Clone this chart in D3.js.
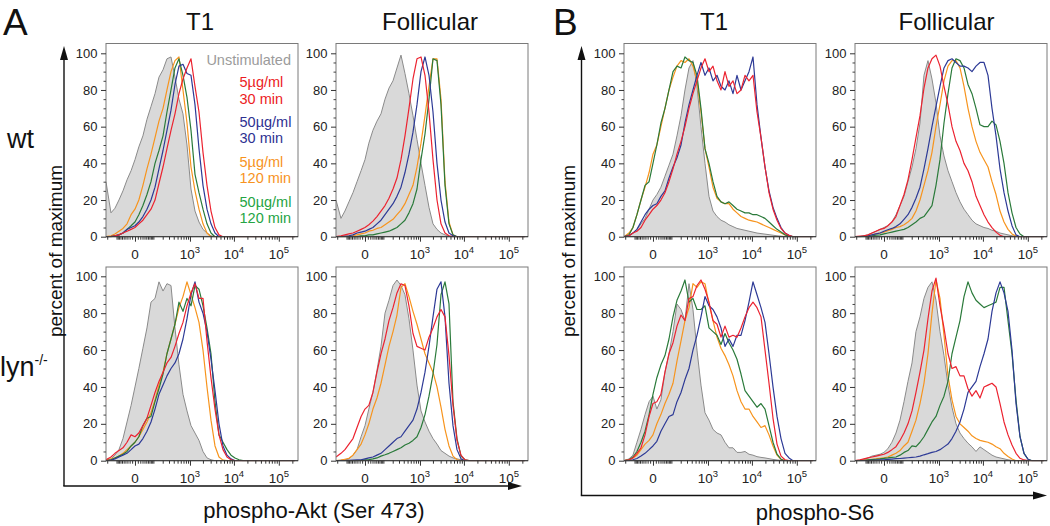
<!DOCTYPE html>
<html><head><meta charset="utf-8">
<script src="https://cdn.jsdelivr.net/npm/d3@7"></script>
<style>
body{margin:0;background:#fff}
svg{display:block}
text{font-family:"Liberation Sans",Arial,Helvetica,sans-serif}
</style></head>
<body><svg id="c" width="1050" height="526"></svg>
<script>
// bin centres (fluorescence, biexponential axis)
const xBins = [-217,-154,-114,-81,-54,-32,-14,0,14,32,54,81,114,154,204,264,339,430,542,680,849,1057,1311,1623,2006,2476,3053,3761,4629,5695,7005,8607,10578,13000,15963,19606,24072,29553,36277,44533,54658,67087,82334,101054,124022,152207,186782,229223];
const yTicks = [0,20,40,60,80,100];
const yMinorTicks = [5,10,15,25,30,35,45,50,55,65,70,75,85,90,95];
const xMajorTicks = [0,1000,10000,100000];
const xTickLabels = [["0",""],["10","3"],["10","4"],["10","5"]];
const xMinorTicks = [-200,-100,-90,-80,-70,-60,-50,-40,-30,-20,-10,10,20,30,40,50,60,70,80,90,100,200,300,400,500,600,700,800,900,2000,3000,4000,5000,6000,7000,8000,9000,20000,30000,40000,50000,60000,70000,80000,90000,200000];
const seriesNames = ["Unstimulated","5µg/ml 30 min","50µg/ml 30 min","5µg/ml 120 min","50µg/ml 120 min"];
const legendLines = [["Unstimulated"],["5µg/ml","30 min"],["50µg/ml","30 min"],["5µg/ml","120 min"],["50µg/ml","120 min"]];
const cellTypes = ["T1","Follicular"];
const genotypes = ["wt","lyn"];

// order in each panel: Unstimulated, 5/30, 50/30, 5/120, 50/120
const aktT1Wt = [
 [30,13,15.5,20,25,31,36,42,49,55,64,71,78,87,91,97,98,87,75,67,50,26,14,8,4,2,0.5,0,0,0,0,0,0,0,0,0,0,0,0,0,0,0,0,0,0,0,0,0],
 [0,0,0.5,1,2,3,4,5,7,9,12,15,20,29,38,48,58,67,78,86,92,97,82,68,46,28,14,5,1,0,0,0,0,0,0,0,0,0,0,0,0,0,0,0,0,0,0,0],
 [0,0,0.5,1,2,4,5,6,8,11,15,20,27,37,47,58,69,83,93,94,89,88,72,48,28,15,7,2,0,0,0,0,0,0,0,0,0,0,0,0,0,0,0,0,0,0,0,0],
 [0,0.5,1.5,3,4.5,7,12,15,20,28,37,45,54,63,70,80,90,96,98,80,62,38,25,15,7,2,0,0,0,0,0,0,0,0,0,0,0,0,0,0,0,0,0,0,0,0,0,0],
 [0,0,0.5,1,2,4,6,8,12,17,23,30,40,47,55,68,80,92,97,88,76,58,34,24,15,7,2,0,0,0,0,0,0,0,0,0,0,0,0,0,0,0,0,0,0,0,0,0]
];
const aktFoWt = [
 [20,10,14,19,24,30,36,42,51,58,63,67,75,81,85,92,99,89,78,66,53,40,28,16,7,4,2,1,0.3,0,0,0,0,0,0,0,0,0,0,0,0,0,0,0,0,0,0,0],
 [0,0.5,1,1.5,2,3,4,5,6.5,8.5,11,14,17,21,26,32,42,55,70,86,97,98,88,68,42,20,7,2,0.5,0,0,0,0,0,0,0,0,0,0,0,0,0,0,0,0,0,0,0],
 [0,0,0.3,0.5,1,2,2.5,3,4,5,7,9,12,15,18,22,27,35,45,57,72,90,98,88,68,40,20,8,2,0.5,0,0,0,0,0,0,0,0,0,0,0,0,0,0,0,0,0,0],
 [0,0,0,0.3,0.5,1,1.5,2,3,3.5,4.5,5,6.5,8,9.5,12,14.5,18,23,28,38,51,66,82,97,97,75,30,8,1,0,0,0,0,0,0,0,0,0,0,0,0,0,0,0,0,0,0],
 [0,0,0,0,0,0,0.5,0.5,1,1,1.5,2,2.5,3,4,5,7,9,13,18,26,42,56,75,97,96,72,28,7,1,0,0,0,0,0,0,0,0,0,0,0,0,0,0,0,0,0,0]
];
const s6T1Wt = [
 [0,0.5,2,4,7,10,15,20,23,27,33,39,45,55,66,80,92,96,82,60,40,22,14,11,9,8,6.5,5.5,4.5,4,3.5,3,2.5,2,1.7,1.4,1.1,0.8,0.5,0.3,0.1,0,0,0,0,0,0,0],
 [0,0.5,2,3,5,9,12,15,17,20,24,30,37,45,52,60,70,78,85,92,97,90,93,85,80,90,82,85,78,80,88,85,88,68,54,38,24,15,9,4.5,2,0.7,0,0,0,0,0,0],
 [0,0.5,2,4,8,12,15,17,18,22,25,32,38,43,50,62,72,80,88,95,88,92,85,88,82,80,85,78,88,80,85,90,98,72,54,38,25,16,10,5,2,0.8,0,0,0,0,0,0],
 [0,2,5,12,20,27,35,45,50,60,70,80,87,93,96,95,97,93,85,68,48,38,27,21,19,18,18,15,13,11,10,9,8.5,8,7,6,5,4,3,2,1,0.3,0,0,0,0,0,0],
 [0,1,5,12,20,28,30,40,50,62,70,80,90,93,92,98,96,95,88,70,48,40,30,22,19,18,19,17,15,14,13,13,12,12,11,10,8,6,4,2.5,1,0.3,0,0,0,0,0,0]
];
const s6FoWt = [
 [0,0,0.5,1,2,3,4,5,6,8,12,17,22,30,38,48,62,88,96,86,73,55,44,36,30,24,19,15,12,9,7,6,5,4.5,3.5,3,2,1.5,1,0.5,0.2,0,0,0,0,0,0,0],
 [0,0.3,0.5,1,2,3,4,4.5,6,8,11,17,23,31,42,54,66,81,92,97,99,93,82,72,60,52,47,40,36,30,22,17,12,8,5,2.5,0.8,0,0,0,0,0,0,0,0,0,0,0],
 [0,0,0.3,0.5,1,1.5,2,3,3.8,4.5,5.5,7,9.5,12,16,21,27,37,48,60,71,82,92,96,97,95,93,93,92,90,93,95,95,88,70,55,37,24,14,6,1,0,0,0,0,0,0,0],
 [0,0,0.3,0.5,1,1.5,2,2.5,3.3,4,5,5.5,6.5,8,10,14,20,28,36,46,60,72,85,93,96,96,92,82,70,60,52,46,42,38,30,23,14,8,4,1.5,0.3,0,0,0,0,0,0,0],
 [0,0,0,0.3,0.5,0.8,1,1.5,2,2.5,3,3.5,4,5,6.5,8,10,11,14,17,28,42,62,78,92,97,96,92,83,78,70,61,60,60,63,61,52,40,24,13,5,1.5,0,0,0,0,0,0]
];
const aktT1Lyn = [
 [0,1,3,6,12,21,30,40,50,61,72,86,88,97,92,96,95,72,52,36,27,19,15,11,5,1.5,0.5,0,0,0,0,0,0,0,0,0,0,0,0,0,0,0,0,0,0,0,0,0],
 [0.5,2,4,5.5,7,10,14,13,15,19,23,30,37,43,48,53,56,62,69,75,84,91,96,88,88,65,45,28,14,6,2,0.5,0,0,0,0,0,0,0,0,0,0,0,0,0,0,0,0],
 [0,0.3,1,2,3,4,6,8,9,12,16,21,28,36,41,46,50,53,58,66,77,90,97,86,80,70,55,38,20,8,3,1,0,0,0,0,0,0,0,0,0,0,0,0,0,0,0,0],
 [0.5,1,1.5,2.5,4,6,8,10,13,17,21,26,33,41,48,58,66,74,83,89,97,90,83,75,60,40,22,8,2,0.3,0,0,0,0,0,0,0,0,0,0,0,0,0,0,0,0,0,0],
 [0,0.5,1.5,2.5,3.5,5,8,10,13,19,23,24,32,39,47,58,66,74,86,81,88,84,95,93,84,72,58,32,14,10,6,3,1.5,0.5,0,0,0,0,0,0,0,0,0,0,0,0,0,0]
];
const aktFoLyn = [
 [0,0.3,0.5,1,3,6,13,19,28,37,49,62,80,87,95,98,95,90,77,60,41,27,21,16,12,9,5.5,4,2.5,1.5,1,0.5,0,0,0,0,0,0,0,0,0,0,0,0,0,0,0,0],
 [2,4,6,9,12,18,24,28,30,37,48,58,66,76,83,91,96,95,84,69,62,61,60,67,72,78,82,78,57,30,11,3,0.5,0,0,0,0,0,0,0,0,0,0,0,0,0,0,0],
 [0,0,0,0.2,0.3,0.4,0.5,1,1.5,2,3,4,6,8,10,12,13,16,19,22,28,37,48,62,78,93,97,78,42,19,6,1,0,0,0,0,0,0,0,0,0,0,0,0,0,0,0,0],
 [0,0.3,0.8,1.3,3,6,9,14,20,28,34,42,52,62,70,79,94,96,89,81,74,66,58,53,48,40,29,17,8,2.5,0.5,0,0,0,0,0,0,0,0,0,0,0,0,0,0,0,0,0],
 [0,0,0,0,0,0.1,0.2,0.4,0.6,1,1.5,2.5,3.2,4,5,6,7,8.5,9.5,11,13,18,25,35,47,63,90,97,85,32,12,2.5,0.5,0,0,0,0,0,0,0,0,0,0,0,0,0,0,0]
];
const s6T1Lyn = [
 [0,1,3,10,17,25,32,35,28,33,48,58,70,85,82,76,96,82,60,41,26,22,17,15,14,10,7,7,4.5,4.5,5,3.5,3,2.2,1.8,1.5,1.1,0.7,0.4,0.2,0,0,0,0,0,0,0,0],
 [0,0.5,1.5,4,7,14,24,31,32,36,48,58,64,73,79,76,88,89,95,98,93,86,76,74,67,73,67,68,67,72,78,83,86,83,78,60,42,23,9,2.5,0.5,0,0,0,0,0,0,0],
 [0,0,0.5,1.2,2.5,4,6,8,10.5,16,20,24,25,32,37,44,50,60,68,78,89,84,82,78,72,62,66,62,68,68,76,86,97,90,83,75,58,40,24,12,4,1.5,0,0,0,0,0,0],
 [0,0.5,1.5,3,6,9,11,14,20,25,31,36,42,54,65,76,83,96,94,97,96,85,76,67,61,57,52,46,38,32,28,28,24,21,18,19,14,8,3,0.8,0,0,0,0,0,0,0,0],
 [0,0.5,2,5,10,16,25,36,45,52,57,66,78,87,92,98,86,88,82,82,84,72,70,68,63,69,64,60,55,47,38,35,32,29,31,28,19,10,3.5,0.8,0,0,0,0,0,0,0,0]
];
const s6FoLyn = [
 [0,0.3,0.8,1.5,2.5,3,3.5,4.5,6.5,10,15,22,32,43,53,70,78,88,94,97,87,70,57,41,29,20,15,12,9.5,7.5,5,7.5,6,4.5,3,2,1.5,1,0.5,0.2,0,0,0,0,0,0,0,0],
 [0,0.5,1,1.5,2,2.5,3,3.5,4.5,6,7.6,11,15,20,27,37,48,60,77,92,99,84,72,58,50,51,46,46,39,35,38,34,40,41,42,40,31,21,14,8.5,4,1.3,0.4,0,0,0,0,0],
 [0,0,0,0.1,0.2,0.3,0.4,0.5,0.7,0.9,1.1,1.2,1.4,1.6,1.8,2,2.5,3.2,3.8,4.5,5,6,7.5,9,12,16,21,28,37,40,43,51,58,66,81,91,97,91,81,60,31,13,4,0.8,0,0,0,0],
 [0,0,0.3,0.5,0.8,1,1.3,1.6,2,3,4,5.5,8,10,16,22,31,42,58,80,98,88,68,46,33,24,20,18,16,13.5,12,11,10.5,10,9,7.6,6.5,4,2.3,0.9,0,0,0,0,0,0,0,0],
 [0,0,0.2,0.4,0.6,0.8,1,1.3,1.5,1.8,2,3,4.5,5.5,8,7.6,10,13,17,21,24,30,35,43,58,67,76,89,97,91,87,85,83,84,85,86,94,94,76,58,33,13,4,0.8,0,0,0,0]
];

const lineColors = ["#8a8a8a","#ec2330","#2d3a96","#f7941d","#2a7a3a"];
const legendColors = ["#9b9b9b","#ec1c24","#2e3192","#f7931e","#25a444"];

const svg = d3.select("#c");
const W = 192;
const cols = [106,336,624,855];
const rows = [{top:43.5,y100:53.3,y0:236.7},{top:267,y100:276.3,y0:460.7}];
const panels = [
 {c:0,r:0,data:aktT1Wt,legend:true},{c:1,r:0,data:aktFoWt},{c:2,r:0,data:s6T1Wt},{c:3,r:0,data:s6FoWt},
 {c:0,r:1,data:aktT1Lyn},{c:1,r:1,data:aktFoLyn},{c:2,r:1,data:s6T1Lyn},{c:3,r:1,data:s6FoLyn}
];

panels.forEach((p,pi)=>{
  const left = cols[p.c], R = rows[p.r];
  const xs = d3.scaleSymlog().constant(63.8).domain([-217,267000]).range([left,left+W]);
  const ys = d3.scaleLinear().domain([0,100]).range([R.y0,R.y100]);
  const g = svg.append("g");
  const cid = "clip"+pi;
  svg.append("clipPath").attr("id",cid).append("rect")
    .attr("x",left).attr("y",R.top).attr("width",W).attr("height",R.y0-R.top+0.6);
  const pg = g.append("g").attr("clip-path",`url(#${cid})`);
  const ok = (d,i)=> i < xBins.length;
  const area = d3.area().defined(ok).x((d,i)=>xs(xBins[i])).y0(R.y0).y1(d=>ys(d));
  const line = d3.line().defined(ok).x((d,i)=>xs(xBins[i])).y(d=>ys(d));
  pg.append("path").datum(p.data[0]).attr("d",area).attr("fill","#d9d9d9");
  pg.append("path").datum(p.data[0]).attr("d",line).attr("fill","none").attr("stroke",lineColors[0]).attr("stroke-width",1);
  [3,4,2,1].forEach(k=>{
    pg.append("path").datum(p.data[k]).attr("d",line).attr("fill","none")
      .attr("stroke",lineColors[k]).attr("stroke-width",1.2).attr("stroke-linejoin","round");
  });
  g.append("rect").attr("x",left).attr("y",R.top).attr("width",W).attr("height",R.y0-R.top)
    .attr("fill","none").attr("stroke","#7a7a7a").attr("stroke-width",1);
  g.append("line").attr("x1",left).attr("x2",left+W).attr("y1",R.y0).attr("y2",R.y0)
    .attr("stroke","#333").attr("stroke-width",1);
  // y axis
  const ya = g.append("g").attr("transform",`translate(${left},0)`)
    .call(d3.axisLeft(ys).tickValues(yTicks).tickSize(5).tickPadding(3.5));
  ya.select(".domain").remove();
  ya.attr("font-size",13).attr("font-family","Liberation Sans, Arial, sans-serif");
  ya.selectAll("text").attr("fill","#222");
  ya.selectAll("line").attr("stroke","#333");
  const yb = g.append("g").attr("transform",`translate(${left},0)`)
    .call(d3.axisLeft(ys).tickValues(yMinorTicks).tickSize(2.5).tickFormat(""));
  yb.select(".domain").remove();
  yb.selectAll("line").attr("stroke","#444");
  // x axis
  const xa = g.append("g").attr("transform",`translate(0,${R.y0})`)
    .call(d3.axisBottom(xs).tickValues(xMajorTicks).tickSize(5).tickFormat(""));
  xa.select(".domain").remove();
  xa.selectAll("line").attr("stroke","#333");
  const xb = g.append("g").attr("transform",`translate(0,${R.y0})`)
    .call(d3.axisBottom(xs).tickValues(xMinorTicks).tickSize(3).tickFormat(""));
  xb.select(".domain").remove();
  xb.selectAll("line").attr("stroke","#333");
  xMajorTicks.forEach((v,i)=>{
    const t = g.append("text").attr("x",xs(v)).attr("y",R.y0+22).attr("text-anchor","middle")
      .attr("font-size",13.5).attr("fill","#222").text(xTickLabels[i][0]);
    if (xTickLabels[i][1]) t.append("tspan").attr("font-size",9.5).attr("dy",-6).text(xTickLabels[i][1]);
  });
  if (p.legend){
    const base = [65,86.7,104,126.7,143.3,166.7,183.3,206.7,223.3];
    let bi = 0;
    legendLines.forEach((lines,k)=>{
      lines.forEach(s=>{
        const unst = k===0;
        svg.append("text").attr("x", unst ? left+185 : left+133.5).attr("y",base[bi++])
          .attr("text-anchor", unst ? "end" : "start").attr("font-size",14.5)
          .attr("fill",legendColors[k]).text(s);
      });
    });
  }
});

// panel letters and headings
svg.append("text").attr("x",3).attr("y",34.5).attr("font-size",37).attr("fill","#111").text("A");
svg.append("text").attr("x",553).attr("y",34.5).attr("font-size",37).attr("fill","#111").text("B");
[[200,cellTypes[0]],[430,cellTypes[1]],[714,cellTypes[0]],[946.5,cellTypes[1]]].forEach(([cx,s])=>{
  svg.append("text").attr("x",cx).attr("y",30).attr("text-anchor","middle").attr("font-size",24).attr("fill","#111").text(s);
});
svg.append("text").attr("x",7).attr("y",148).attr("font-size",27).attr("fill","#111").text(genotypes[0]);
const lyn = svg.append("text").attr("x",0).attr("y",376).attr("font-size",27).attr("fill","#111").text(genotypes[1]);
lyn.append("tspan").attr("font-size",14).attr("dy",-11).text("-/-");

// y-axis titles and arrows
[[62,64,486,522],[575,581.5,495.5,1047]].forEach(([tx,ax,ay,tipX])=>{
  svg.append("text").attr("transform",`translate(${tx},251) rotate(-90)`).attr("text-anchor","middle")
    .attr("font-size",19).attr("fill","#111").text("percent of maximum");
  svg.append("line").attr("x1",ax).attr("x2",ax).attr("y1",ay).attr("y2",58).attr("stroke","#111").attr("stroke-width",1.4);
  svg.append("path").attr("d",`M${ax},46 L${ax-4},60 L${ax+4},60 Z`).attr("fill","#111");
  svg.append("line").attr("x1",ax-0.7).attr("x2",tipX-10).attr("y1",ay).attr("y2",ay).attr("stroke","#111").attr("stroke-width",1.4);
  svg.append("path").attr("d",`M${tipX},${ay} L${tipX-14},${ay-4} L${tipX-14},${ay+4} Z`).attr("fill","#111");
});
svg.append("text").attr("x",314).attr("y",518).attr("text-anchor","middle").attr("font-size",22).attr("fill","#111").text("phospho-Akt (Ser 473)");
svg.append("text").attr("x",815).attr("y",520).attr("text-anchor","middle").attr("font-size",22).attr("fill","#111").text("phospho-S6");
</script>
</body></html>
